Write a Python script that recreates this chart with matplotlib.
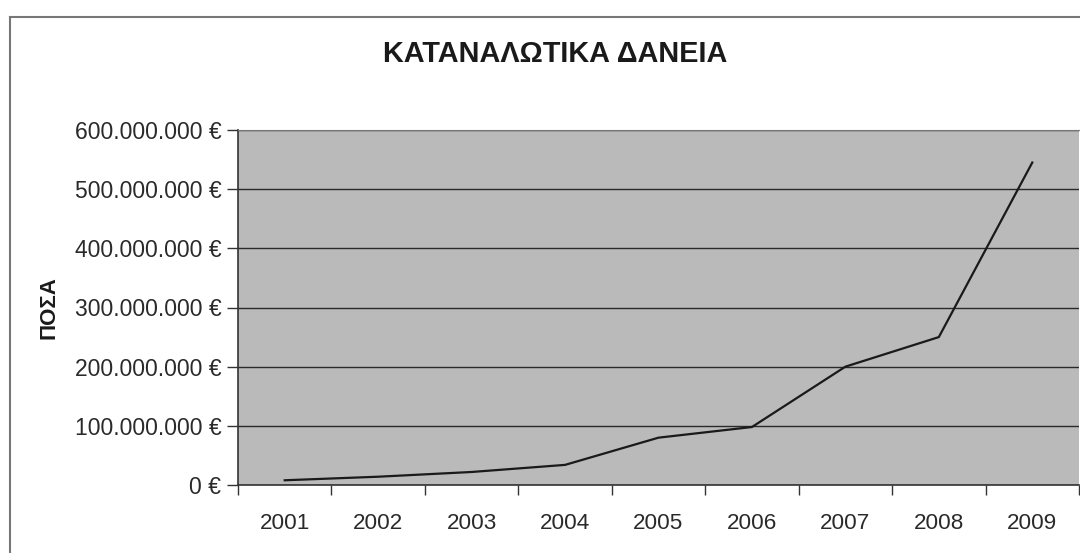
import matplotlib.pyplot as plt
from matplotlib.lines import Line2D
from matplotlib.ticker import FuncFormatter, MultipleLocator

years = ['2001', '2002', '2003', '2004', '2005', '2006', '2007', '2008', '2009']
amounts = [8e6, 14e6, 22e6, 34e6, 80e6, 98e6, 200e6, 250e6, 545e6]
yticks = [0, 100e6, 200e6, 300e6, 400e6, 500e6, 600e6]


def euro(v, pos=None):
    s = f"{int(round(v)):,}".replace(',', '.')
    return s + " €"


plt.rcParams['font.family'] = ['Liberation Sans', 'DejaVu Sans']

fig = plt.figure(figsize=(10.8, 5.53), dpi=100)
fig.patch.set_facecolor('white')
ax = fig.add_axes([238 / 1080, 1 - 485 / 553, 841 / 1080, 355 / 553])
ax.set_facecolor('#bababa')

x = list(range(len(years)))
ax.plot(x, amounts, color='#1a1a1a', lw=1.6, zorder=3)

ax.set_xlim(-0.5, len(years) - 0.5)
ax.set_ylim(0, 600e6)
ax.set_yticks(yticks)
ax.yaxis.set_major_formatter(FuncFormatter(euro))
ax.grid(axis='y', color='#2a2a2a', lw=1.0)
ax.set_axisbelow(True)

# category labels centred, tick marks between categories
ax.set_xticks(x)
ax.set_xticklabels(years)
ax.xaxis.set_minor_locator(MultipleLocator(1, offset=0.5))
ax.tick_params(axis='x', which='major', length=0, pad=20, labelsize=16.2, labelcolor='#2a2a2a')
ax.tick_params(axis='x', which='minor', length=7, width=1, color='#333333')
ax.tick_params(axis='y', length=8, width=1, color='#333333', pad=4, labelsize=16.5, labelcolor='#2a2a2a')

for side in ('left', 'bottom'):
    ax.spines[side].set_color('#333333')
    ax.spines[side].set_linewidth(1.2)
ax.spines['top'].set_color('#777777')
ax.spines['right'].set_visible(False)

ax.set_ylabel('ΠΟΣΑ', fontsize=16, fontweight='bold', color='#1a1a1a')
ax.yaxis.set_label_coords(-0.212, 0.5)

fig.text(555 / 1080, 1 - 54 / 553, 'ΚΑΤΑΝΑΛΩΤΙΚΑ ΔΑΝΕΙΑ', ha='center', va='center',
         fontsize=20.8, fontweight='bold', color='#1a1a1a')

# outer chart frame
fig.add_artist(Line2D([9.5 / 1080, 9.5 / 1080], [0, 1 - 17 / 553], transform=fig.transFigure,
                      color='#777777', lw=1.5))
fig.add_artist(Line2D([9.5 / 1080, 1], [1 - 17 / 553, 1 - 17 / 553], transform=fig.transFigure,
                      color='#777777', lw=1.5))

fig.savefig('out.png', dpi=100)
